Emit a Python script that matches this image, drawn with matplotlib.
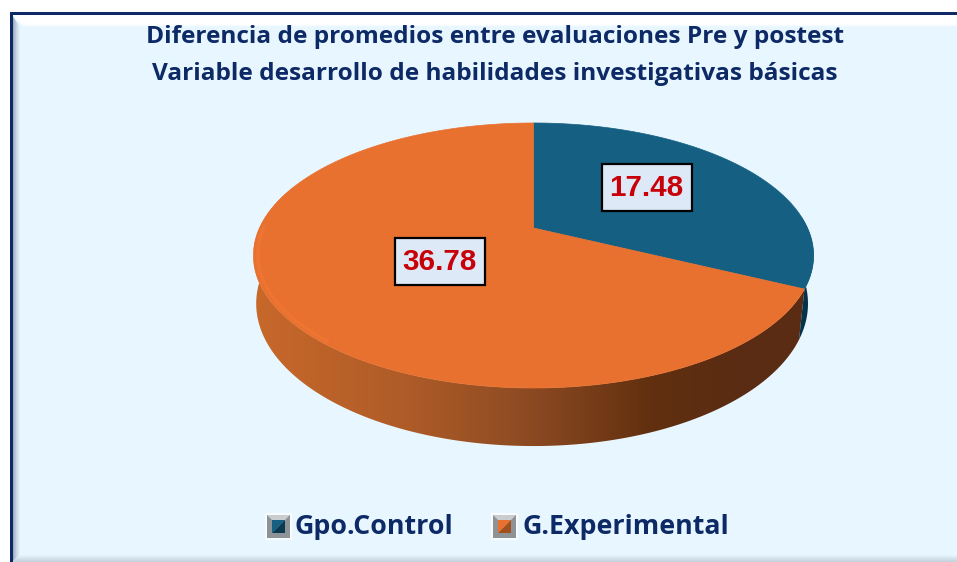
import numpy as np
import matplotlib
matplotlib.use("Agg")
import matplotlib.pyplot as plt
from matplotlib.patches import Polygon, Rectangle
from matplotlib.colors import LinearSegmentedColormap

categories = ["Gpo.Control", "G.Experimental"]
values = [17.48, 36.78]
labels = ["17.48", "36.78"]
title_lines = ["Diferencia de promedios entre evaluaciones Pre y postest",
               "Variable desarrollo de habilidades investigativas básicas"]

navy = "#0E2A66"
bg = "#E8F7FF"
colors = ["#156082", "#E87130"]

# pie geometry in pixels, tilted disc with a bit of perspective
cx, cy = 533.5, 228
rx, ry, k = 274, 126.8, 0.2075
depth = 46


def rim(angles, r=1.0, drop=0.0):
    u = r * np.sin(np.radians(angles))
    v = r * np.cos(np.radians(angles))
    w = 1 + k * v
    # bottom edge is a little narrower, more so on the right
    scale = np.where(u > 0, 0.98, 0.99) if drop > 0 else 1.0
    return np.column_stack([cx + scale * rx * u / w, cy - ry * v / w + drop / w])


fig = plt.figure(figsize=(9.57, 5.62), dpi=100, facecolor="white")
ax = fig.add_axes([0, 0, 1, 1])


def gradient(stops, clip, extent, vertical=False):
    cmap = LinearSegmentedColormap.from_list("g", stops)
    g = np.linspace(0, 1, 256)
    g = g[:, None] if vertical else g[None, :]
    im = ax.imshow(g, cmap=cmap, extent=extent, aspect="auto", origin="upper",
                   zorder=clip.get_zorder(), interpolation="bilinear")
    ax.add_patch(clip)
    clip.set_visible(False)
    im.set_clip_path(clip)
    return im


# chart area and its bevel
ax.add_patch(Rectangle((10, 12), 960, 560, fc=bg, ec="none", zorder=1))
gradient([(0, "#FFFFFF"), (0.8, "#FFFFFF"), (1, bg)],
         Polygon([(12, 15), (960, 15), (960, 27), (24, 27)], zorder=2),
         (12, 960, 27, 15), vertical=True)
gradient([(0, "#8C98AE"), (0.5, "#C4D2DE"), (1, bg)],
         Polygon([(12, 15), (20, 27), (20, 555), (12, 562)], zorder=2),
         (12, 20, 562, 15))
gradient([(0, bg), (1, "#C2CFD9")],
         Polygon([(20, 555), (960, 555), (960, 562), (12, 562)], zorder=2),
         (12, 960, 562, 555), vertical=True)
ax.add_patch(Rectangle((10, 12), 960, 2.6, fc=navy, ec="none", zorder=3))
ax.add_patch(Rectangle((10, 12), 2.5, 560, fc=navy, ec="none", zorder=3))

# angles of the slices, clockwise from the back of the disc
edges = np.concatenate([[0], np.cumsum(values) / np.sum(values) * 360])

# side wall
a = np.linspace(edges[1], 290, 300)
wall = Polygon(np.vstack([rim(a), rim(a[::-1], drop=depth)]), zorder=4)
gradient([(0, "#C8682B"), (0.27, "#AF5C28"), (0.5, "#8C4A22"), (0.72, "#62300F"),
          (0.87, "#5A2C13"), (1, "#5A2C13")], wall, (254, 806, 460, 120))
a = np.linspace(85, edges[1], 60)
ax.add_patch(Polygon(np.vstack([rim(a), rim(a[::-1], drop=depth)]), fc="#06324A", ec="none", zorder=4))

# top face
for i in range(2):
    a = np.linspace(edges[i], edges[i + 1], 300)
    ax.add_patch(Polygon(np.vstack([[cx, cy], rim(a)]), fc=colors[i], ec=colors[i], lw=0.5, zorder=5))

# rim highlight on the left of the orange slice
a = np.linspace(220, 270, 120)
p = rim(a, r=0.985)
ax.plot(p[:, 0], p[:, 1], color="#FF7D36", lw=2.5, alpha=0.3, zorder=6, solid_capstyle="round")

# data labels
label_pos = [(646.5, 187), (439.5, 261)]
for (x, y), t in zip(label_pos, labels):
    ax.add_patch(Rectangle((x - 45, y - 23.5), 90, 47, fc="#DDE9F6", ec="black", lw=1.6, zorder=7))
    ax.text(x, y + 1, t, color="#C8000A", fontsize=21.3, fontweight="bold",
            family="Liberation Sans", ha="center", va="center", zorder=8)

# title
for y, t in zip([37, 74], title_lines):
    ax.text(494.5, y, t, color=navy, fontsize=17.6, fontweight="bold", family="Open Sans",
            ha="center", va="center", zorder=8)

# legend
for x0, x_txt, c, shade, name in [(265, 295, colors[0], "#0B3A50", categories[0]),
                                  (491, 522, colors[1], "#A0501F", categories[1])]:
    ax.add_patch(Rectangle((x0, 513), 27, 27, fc="#F8FCFF", ec="none", zorder=5))
    s = 23
    x1, y1 = x0 + 2, 515
    ax.add_patch(Rectangle((x1, y1), s, s, fc="#8E9397", ec="none", zorder=6))
    ax.add_patch(Polygon([(x1, y1), (x1 + s, y1), (x1 + s - 5, y1 + 5), (x1 + 5, y1 + 5)], fc="#C9CDD0", ec="none", zorder=6))
    ax.add_patch(Polygon([(x1 + 5, y1 + s - 5), (x1 + s - 5, y1 + 5), (x1 + s - 5, y1 + s - 5)], fc=shade, ec="none", zorder=7))
    ax.add_patch(Polygon([(x1 + 5, y1 + s - 5), (x1 + s - 5, y1 + 5), (x1 + 5, y1 + 5)], fc=c, ec="none", zorder=7))
    ax.text(x_txt, 527, name, color=navy, fontsize=19.3, fontweight="bold", family="Open Sans",
            ha="left", va="center", zorder=8)

ax.set_xlim(0, 957)
ax.set_ylim(562, 0)
ax.axis("off")
fig.savefig("out.png", dpi=100, facecolor="white")
